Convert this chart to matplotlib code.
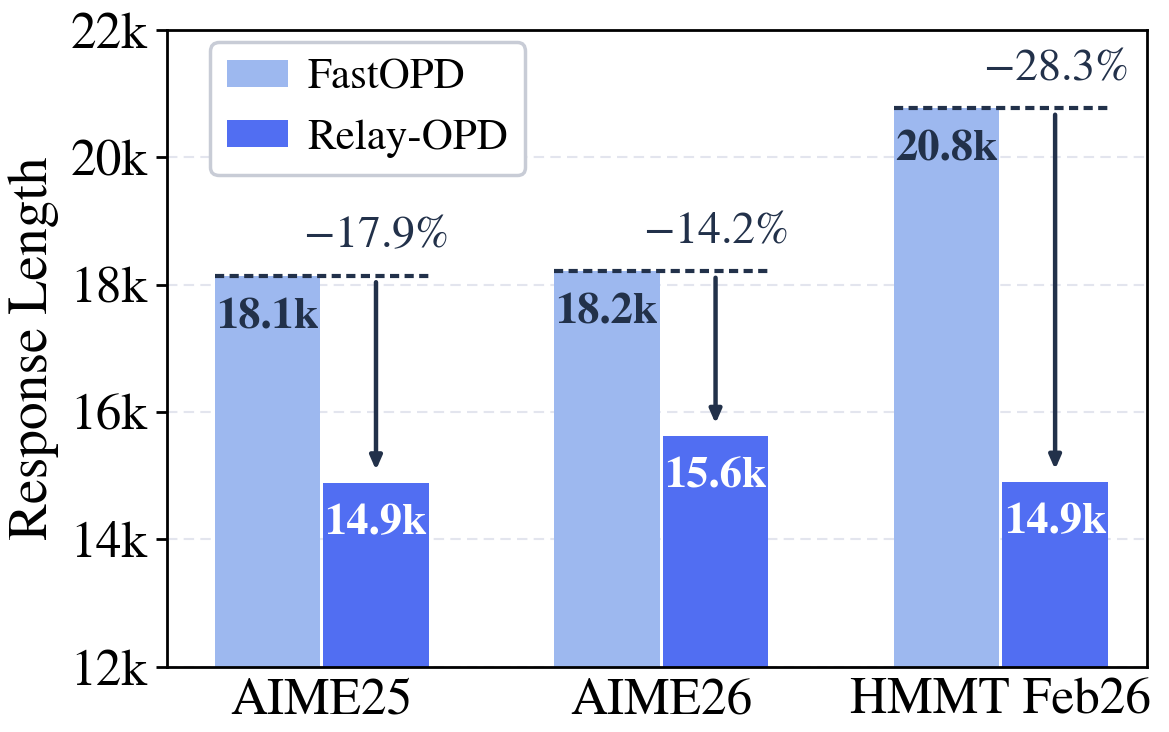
import matplotlib.pyplot as plt
import numpy as np

plt.rcParams['font.family'] = ['STIXGeneral', 'DejaVu Serif']
plt.rcParams['mathtext.fontset'] = 'stix'

# Datos
benchmarks = ['AIME25', 'AIME26', 'HMMT Feb26']
fastopd = [18.14, 18.21, 20.77]   # k tokens
relayopd = [14.89, 15.62, 14.90]  # k tokens

c_fast = '#9db8ef'
c_relay = '#516ef2'
c_text = '#22314a'

x = np.arange(len(benchmarks))
w = 0.31
off = 0.16

fig = plt.figure(figsize=(11.69, 7.32), dpi=100)
ax = fig.add_axes([0.143, 0.089, 0.838, 0.870])

ax.bar(x - off, fastopd, width=w, color=c_fast, label='FastOPD', zorder=2)
ax.bar(x + off, relayopd, width=w, color=c_relay, label='Relay-OPD', zorder=2)

for i in range(len(benchmarks)):
    f, r = fastopd[i], relayopd[i]
    # línea discontinua al nivel de FastOPD
    ax.plot([x[i] - off - w / 2, x[i] + off + w / 2], [f, f], ls=(0, (2.2, 1.3)),
            color=c_text, lw=3, zorder=3)
    ax.annotate('', xy=(x[i] + off, r + 0.2), xytext=(x[i] + off, f - 0.1),
                arrowprops=dict(arrowstyle='-|>,head_length=0.8,head_width=0.35',
                                color=c_text, lw=3.2, shrinkA=0, shrinkB=0),
                zorder=4)
    pct = (r - f) / f * 100
    ax.text(x[i] + off, f + 0.62, '$-%.1f\\%%$' % abs(pct), ha='center', va='center',
            fontsize=33, color=c_text)
    ax.text(x[i] - off, f - 0.66, '%.1fk' % f, ha='center', va='center',
            fontsize=32, fontweight='bold', color=c_text, zorder=5)
    ax.text(x[i] + off, r - 0.64, '%.1fk' % r, ha='center', va='center',
            fontsize=32, fontweight='bold', color='white', zorder=5)

ax.set_ylim(12, 22)
ax.set_xlim(-0.455, 2.43)
ax.set_yticks([12, 14, 16, 18, 20, 22])
ax.set_yticklabels(['%dk' % v for v in [12, 14, 16, 18, 20, 22]])
ax.set_xticks(x)
ax.set_xticklabels(benchmarks)
ax.tick_params(axis='y', labelsize=37, length=8, width=2, pad=6)
ax.tick_params(axis='x', labelsize=37, length=0, pad=8)
ax.set_ylabel('Response Length', fontsize=40, labelpad=8)

ax.grid(axis='y', ls=(0, (5, 3)), color='#e3e5ee', lw=1.5, zorder=0)
ax.set_axisbelow(True)
for s in ax.spines.values():
    s.set_linewidth(2)

leg = ax.legend(loc='upper left', bbox_to_anchor=(0.044, 0.981), fontsize=31,
                handlelength=1.4, handleheight=0.6, borderpad=0.4, borderaxespad=0,
                labelspacing=0.5, handletextpad=0.45, fancybox=True, framealpha=1)
leg.get_frame().set_edgecolor('#c8ccd6')
leg.get_frame().set_linewidth(2.5)

fig.savefig('out.png', dpi=100)
